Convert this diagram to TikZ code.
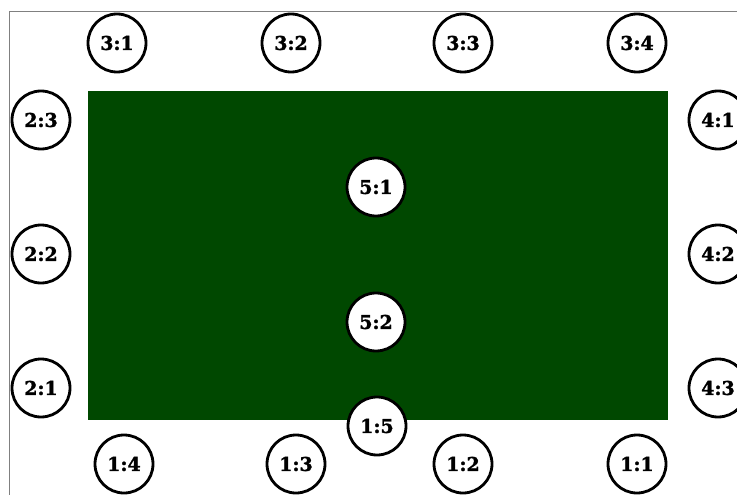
\documentclass[tikz,border=0pt]{standalone}
\usepackage{fontspec}
\setmainfont{DejaVu Serif}
\newfontfamily\spotfont[FakeBold=1.5]{DejaVu Serif Bold}
\definecolor{fieldgreen}{RGB}{0,72,0}
\definecolor{framegray}{RGB}{128,128,128}
\begin{document}
\begin{tikzpicture}[x=1pt,y=-1pt,
  spot/.style={circle,draw=black,line width=2.8pt,fill=white,minimum size=58pt,inner sep=0pt,font=\spotfont\fontsize{19}{19}\selectfont}]
\useasboundingbox (0,0) rectangle (737,495);
\draw[framegray,line width=1pt] (9,495) -- (9,12) -- (737,12);
\fill[fieldgreen] (88,91) rectangle (668,420);
\node[spot] (n31) at (117,43) {3:1};
\node[spot] (n32) at (291,43) {3:2};
\node[spot] (n33) at (463,43) {3:3};
\node[spot] (n34) at (637,43) {3:4};
\node[spot] (n23) at (41,120) {2:3};
\node[spot] (n22) at (41,254) {2:2};
\node[spot] (n21) at (41,388) {2:1};
\node[spot] (n41) at (718,120) {4:1};
\node[spot] (n42) at (718,254) {4:2};
\node[spot] (n43) at (718,388) {4:3};
\node[spot] (n51) at (376,187) {5:1};
\node[spot] (n52) at (376,322) {5:2};
\node[spot] (n15) at (377,426) {1:5};
\node[spot] (n14) at (124,464) {1:4};
\node[spot] (n13) at (296,464) {1:3};
\node[spot] (n12) at (463,464) {1:2};
\node[spot] (n11) at (637,464) {1:1};
\end{tikzpicture}
\end{document}
